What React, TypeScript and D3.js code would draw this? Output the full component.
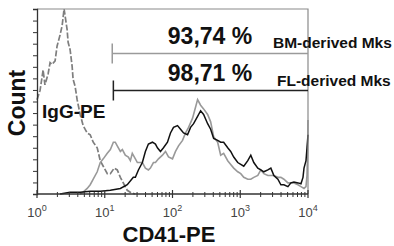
import { useRef, useEffect } from "react";
import * as d3 from "d3";

// CD41-PE intensity vs relative count (% of IgG peak)
const iggPE: [number, number][] = [
  [1, 51], [1.11, 56], [1.23, 67], [1.31, 59], [1.46, 65], [1.56, 71], [1.67, 70],
  [1.85, 72], [1.98, 80], [2.19, 86], [2.35, 91], [2.51, 100], [2.78, 89], [2.88, 82],
  [3.08, 78], [3.3, 69], [3.41, 62], [3.66, 58], [3.91, 51], [4.34, 43], [4.8, 37],
  [5.51, 33], [6.1, 32], [6.76, 28], [7.74, 25], [8.58, 18], [9.5, 15], [10.9, 11],
  [12.1, 11], [13.8, 14], [15.3, 13], [17, 9], [19.4, 5], [21.5, 2], [24.7, 0.5], [28.3, 0],
];

const bmMks: [number, number][] = [
  [4.34, 0], [4.8, 1], [5.51, 3], [6.1, 5], [6.76, 8], [7.74, 12], [8.58, 17], [9.5, 19],
  [10.9, 22], [12.1, 24], [13.4, 28], [14.3, 28], [15.3, 26], [17, 23], [18.2, 24],
  [20.1, 21], [22.3, 20], [23.9, 18], [25.5, 22], [28.3, 19], [30.3, 17], [35.9, 17],
  [39.8, 14], [44.1, 13], [47.2, 14], [52.3, 17], [56, 17], [62.1, 19], [71.1, 21],
  [78.8, 23], [87.3, 20], [100, 19], [110.8, 23], [122.7, 26], [140.6, 29], [155.9, 33],
  [172.7, 36], [197.8, 41], [219.2, 47], [234.6, 51], [242.9, 50], [260, 48], [287.8, 46],
  [330, 43], [365.6, 39], [404.9, 31], [464, 28], [514, 21], [569, 22], [653, 18],
  [723, 16], [801, 14], [918, 12], [1017, 11], [1127, 9], [1292, 8], [1431, 8], [1585, 9],
  [1817, 10], [2012, 13], [2229, 11], [2555, 10], [2830, 10], [3135, 10], [3593, 9],
  [3981, 9], [4409, 8], [5054, 6], [5598, 6], [6202, 6], [7109, 5], [7875, 4], [8727, 3],
  [9339, 4], [9664, 10], [9900, 24], [10000, 40],
];

const flMks: [number, number][] = [
  [2.19, 0], [3.08, 1], [4.34, 1], [6.1, 1.5], [8.58, 1.5], [12.1, 2], [17, 3], [21.5, 5],
  [26.4, 9], [28.3, 9], [31.4, 13], [35.9, 17], [39.8, 23], [44.1, 27], [50.6, 28],
  [56, 27], [59.9, 25], [66.4, 23], [73.6, 25], [84.3, 28], [93.4, 33], [103.5, 36],
  [118.6, 37], [131.4, 35], [145.6, 33], [166.8, 32], [184.8, 36], [204.8, 38],
  [234.6, 42], [260, 45], [287.8, 43], [330, 38], [365.6, 35], [404.9, 30], [464, 29],
  [514, 28], [569, 28], [653, 25], [723, 23], [801, 20], [918, 17], [1017, 16], [1127, 15],
  [1292, 18], [1431, 21], [1585, 17], [1817, 14], [2012, 13], [2229, 12], [2555, 13],
  [2830, 14], [3135, 10], [3593, 8], [3981, 5], [4409, 5], [5054, 4], [5598, 6],
  [6202, 6.5], [7109, 6], [7875, 5.5], [8433, 9], [8727, 14], [9339, 18], [9664, 25],
  [10000, 32],
];

const gateLabels = ["93,74 %", "98,71 %"];
const gateNames = ["BM-derived Mks", "FL-derived Mks"];
const gateStart = [12.9, 13.4];
const gateLevel = [76, 56];
const decades = [0, 1, 2, 3, 4];

export default function App() {
  const svgRef = useRef<SVGSVGElement>(null);

  useEffect(() => {
    if (!svgRef.current) return;
    const svg = d3.select(svgRef.current);
    svg.selectAll("*").remove();

    const width = 394;
    const height = 246;
    const margin = { top: 9, right: 86, bottom: 52, left: 37 };
    const x0 = margin.left;
    const x1 = width - margin.right;
    const y0 = height - margin.bottom;
    const y1 = margin.top;
    const font = "'Liberation Sans', Arial, sans-serif";

    const x = d3.scaleLog().domain([1, 10000]).range([x0, x1]);
    const y = d3.scaleLinear().domain([0, 100]).range([y0, y1]);

    const line = d3
      .line<[number, number]>()
      .x((d) => x(d[0]))
      .y((d) => y(d[1]));

    // Curves
    svg
      .append("path")
      .datum(iggPE)
      .attr("d", line)
      .attr("fill", "none")
      .attr("stroke", "#7e7e7e")
      .attr("stroke-width", 1.7)
      .attr("stroke-dasharray", "6 2");

    svg
      .append("path")
      .datum(bmMks)
      .attr("d", line)
      .attr("fill", "none")
      .attr("stroke", "#999")
      .attr("stroke-width", 1.6);

    svg
      .append("path")
      .datum(flMks)
      .attr("d", line)
      .attr("fill", "none")
      .attr("stroke", "#111")
      .attr("stroke-width", 1.5);

    // Frame
    svg
      .append("path")
      .attr("d", `M${x0},${y1}H${x1}V${y0}`)
      .attr("fill", "none")
      .attr("stroke", "#8a8a8a")
      .attr("stroke-width", 1.2);

    // Y axis
    svg
      .append("g")
      .attr("transform", `translate(${x0},0)`)
      .call(
        d3
          .axisLeft(y)
          .tickValues(d3.range(0, 100.01, 100 / 16))
          .tickSize(4)
          .tickFormat(() => "")
      )
      .attr("color", "#333")
      .select(".domain")
      .attr("stroke-width", 1.3);

    // X axis
    svg
      .append("line")
      .attr("x1", x0)
      .attr("x2", x1)
      .attr("y1", y0)
      .attr("y2", y0)
      .attr("stroke", "#333")
      .attr("stroke-width", 1.3);

    const minor: number[] = [];
    decades.slice(0, 4).forEach((p) => {
      for (let k = 2; k <= 9; k++) minor.push(k * Math.pow(10, p));
    });
    svg
      .selectAll(".minor")
      .data(minor)
      .join("line")
      .attr("x1", (d) => x(d))
      .attr("x2", (d) => x(d))
      .attr("y1", y0 - 2)
      .attr("y2", y0 + 3)
      .attr("stroke", "#333");

    svg
      .selectAll(".major")
      .data(decades)
      .join("line")
      .attr("x1", (d) => x(Math.pow(10, d)))
      .attr("x2", (d) => x(Math.pow(10, d)))
      .attr("y1", y0 - 4)
      .attr("y2", y0 + 4)
      .attr("stroke", "#333")
      .attr("stroke-width", 1.2);

    const lbl = svg
      .selectAll(".xl")
      .data(decades)
      .join("text")
      .attr("x", (d) => x(Math.pow(10, d)))
      .attr("y", 217)
      .attr("text-anchor", "middle")
      .attr("font-family", font)
      .attr("font-size", "13px")
      .attr("fill", "#444");
    lbl.append("tspan").text("10");
    lbl
      .append("tspan")
      .attr("dy", -6)
      .attr("font-size", "9px")
      .text((d) => String(d));

    // Gates
    gateLabels.forEach((label, i) => {
      const gy = y(gateLevel[i]);
      const gx = x(gateStart[i]);
      const col = i === 0 ? "#9a9a9a" : "#222";
      svg
        .append("path")
        .attr("d", `M${gx},${gy - 10}V${gy + 10}M${gx},${gy}H${x1}`)
        .attr("fill", "none")
        .attr("stroke", col)
        .attr("stroke-width", 1.5);

      svg
        .append("text")
        .attr("x", 210)
        .attr("y", gy - 9)
        .attr("text-anchor", "middle")
        .attr("font-family", font)
        .attr("font-weight", "bold")
        .attr("font-size", "23px")
        .attr("fill", "#111")
        .text(label);

      svg
        .append("text")
        .attr("x", i === 0 ? 273 : 277)
        .attr("y", gy - (i === 0 ? 5 : 4))
        .attr("font-family", font)
        .attr("font-weight", "bold")
        .attr("font-size", "15.5px")
        .attr("fill", "#111")
        .text(gateNames[i]);
    });

    // Labels
    svg
      .append("text")
      .attr("x", 42)
      .attr("y", 118)
      .attr("font-family", font)
      .attr("font-weight", "bold")
      .attr("font-size", "19px")
      .attr("fill", "#111")
      .text("IgG-PE");

    svg
      .append("text")
      .attr("transform", "rotate(-90)")
      .attr("x", -103)
      .attr("y", 25)
      .attr("text-anchor", "middle")
      .attr("font-family", font)
      .attr("font-weight", "bold")
      .attr("font-size", "23px")
      .attr("fill", "#111")
      .text("Count");

    svg
      .append("text")
      .attr("x", 169)
      .attr("y", 242)
      .attr("text-anchor", "middle")
      .attr("font-family", font)
      .attr("font-weight", "bold")
      .attr("font-size", "22px")
      .attr("fill", "#111")
      .text("CD41-PE");
  }, []);

  return (
    <svg
      ref={svgRef}
      width={394}
      height={246}
      style={{ position: "absolute", left: 0, top: 0, background: "#fff" }}
    />
  );
}
